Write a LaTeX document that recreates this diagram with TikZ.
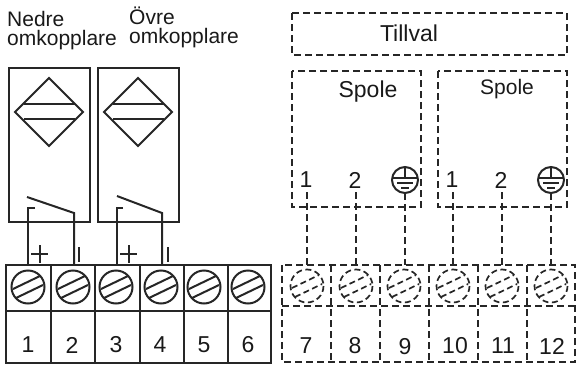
\documentclass[tikz,border=0pt]{standalone}
\usepackage{fontspec}
\setmainfont{Liberation Sans}
\usetikzlibrary{calc}
\tikzset{
	solidline/.style={line width=2pt, color=black!85},
	dashline/.style={line width=2pt, color=black!85, dash pattern=on 7pt off 4pt},
	dashscrew/.style={line width=1.7pt, color=black!85, dash pattern=on 6pt off 3.5pt},
	label21/.style={inner sep=0pt, font=\fontsize{21}{20}\selectfont, color=black!90},
	label23/.style={inner sep=0pt, font=\fontsize{23}{23}\selectfont, color=black!90}
}
\def\screw(#1,#2)[#3]{\draw[#3] (#1, #2) circle (16.5);
	\draw[#3] ($(#1, #2)+(-15, 2)$) -- ($(#1, #2)+(12, -11)$);
	\draw[#3] ($(#1, #2)+(-12, 11)$) -- ($(#1, #2)+(15, -2)$);}
\def\earth(#1,#2){\draw[solidline] (#1, #2) circle (13);
	\draw[solidline] (#1, #2-12) -- (#1, #2-2);
	\draw[solidline] (#1-13, #2-2) -- (#1+13, #2-2);
	\draw[solidline] (#1-8, #2+3) -- (#1+8, #2+3);
	\draw[solidline] (#1-4, #2+8) -- (#1+4, #2+8);}
\begin{document}
\begin{tikzpicture}[x=1pt, y=-1pt]
		%%%%% START %%%%%
		\useasboundingbox (0, 0) rectangle (576, 367);
		
		\node[label21, anchor=base west] (nedre) at (7, 26) {Nedre};
		\node[label21, anchor=base west] (nedreomk) at (7, 45) {omkopplare};
		\node[label21, anchor=base west] (ovre) at (129, 24) {Övre};
		\node[label21, anchor=base west] (ovreomk) at (129, 43) {omkopplare};
		
		\draw[solidline] (9, 68) rectangle (90, 222);
		\draw[solidline] (98, 68) rectangle (179, 222);
		
		\draw[solidline] (49, 78) -- (83, 112) -- (49, 146) -- (15, 112) -- cycle;
		\draw[solidline] (24, 104) -- (75, 104);
		\draw[solidline] (24, 119) -- (75, 119);
		\draw[solidline] (138, 78) -- (172, 112) -- (138, 146) -- (104, 112) -- cycle;
		\draw[solidline] (113, 104) -- (164, 104);
		\draw[solidline] (113, 119) -- (164, 119);
		
		\draw[solidline] (27, 197) -- (74, 213) -- (74, 265);
		\draw[solidline] (35, 208) -- (28, 208) -- (28, 265);
		\draw[solidline] (117, 196) -- (162, 213) -- (162, 265);
		\draw[solidline] (123, 208) -- (117, 208) -- (117, 265);
		
		\draw[solidline] (31, 254) -- (48, 254);
		\draw[solidline] (39.5, 245) -- (39.5, 263);
		\draw[solidline] (79, 247) -- (79, 262);
		\draw[solidline] (120, 254) -- (137, 254);
		\draw[solidline] (128.5, 245) -- (128.5, 263);
		\draw[solidline] (168, 247) -- (168, 262);
		
		\draw[solidline] (6, 265) rectangle (271, 363);
		\draw[solidline] (6, 311) -- (271, 311);
		\draw[solidline] (51, 265) -- (51, 363);
		\draw[solidline] (95, 265) -- (95, 363);
		\draw[solidline] (140, 265) -- (140, 363);
		\draw[solidline] (184, 265) -- (184, 363);
		\draw[solidline] (228, 265) -- (228, 363);
		
		\screw(28, 287)[solidline]
		\screw(73, 287)[solidline]
		\screw(116, 287)[solidline]
		\screw(161, 287)[solidline]
		\screw(204, 287)[solidline]
		\screw(248, 287)[solidline]
		
		\node[label23] (num1) at (28, 345) {1};
		\node[label23] (num2) at (72, 345) {2};
		\node[label23] (num3) at (116, 345) {3};
		\node[label23] (num4) at (160, 345) {4};
		\node[label23] (num5) at (204, 345) {5};
		\node[label23] (num6) at (248, 345) {6};
		
		\draw[dashline] (292, 13) rectangle (567, 55);
		\node[label23] (tillval) at (409, 33) {Tillval};
		
		\draw[dashline] (292, 71) rectangle (421, 207);
		\draw[dashline] (438, 71) rectangle (567, 207);
		\node[label23] (spolea) at (368, 92) {Spole};
		\node[label21] (spoleb) at (507, 89) {Spole};
		
		\node[label23] (coila) at (306, 180) {1};
		\node[label23] (coilb) at (355, 180) {2};
		\earth(405, 180)
		\node[label23] (coilc) at (452, 180) {1};
		\node[label23] (coild) at (501, 180) {2};
		\earth(551, 180)
		
		\draw[dashline] (307, 192) -- (307, 265);
		\draw[dashline] (356, 192) -- (356, 265);
		\draw[dashline] (405, 193) -- (405, 265);
		\draw[dashline] (453, 192) -- (453, 265);
		\draw[dashline] (502, 192) -- (502, 265);
		\draw[dashline] (551, 193) -- (551, 265);
		
		\draw[dashline] (282, 265) rectangle (575, 362);
		\draw[dashline] (282, 306) -- (575, 306);
		\draw[dashline] (331, 265) -- (331, 362);
		\draw[dashline] (380, 265) -- (380, 362);
		\draw[dashline] (429, 265) -- (429, 362);
		\draw[dashline] (478, 265) -- (478, 362);
		\draw[dashline] (527, 265) -- (527, 362);
		
		\screw(307, 286)[dashscrew]
		\screw(356, 286)[dashscrew]
		\screw(404, 286)[dashscrew]
		\screw(453, 286)[dashscrew]
		\screw(502, 286)[dashscrew]
		\screw(551, 286)[dashscrew]
		
		\node[label23] (num7) at (306, 346) {7};
		\node[label23] (num8) at (355, 346) {8};
		\node[label23] (num9) at (405, 347) {9};
		\node[label23] (num10) at (455, 346) {10};
		\node[label23] (num11) at (503, 346) {11};
		\node[label23] (num12) at (552, 346) {12};
		
		%%%%% END %%%%%
	\end{tikzpicture}
\end{document}
